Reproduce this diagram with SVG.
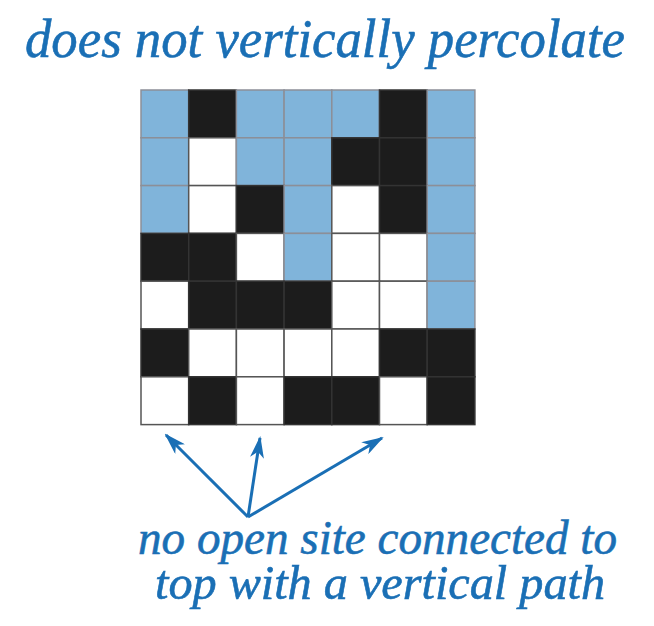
<svg xmlns="http://www.w3.org/2000/svg" width="654" height="626" viewBox="0 0 654 626">
<style>
.t{font-family:"Liberation Serif","DejaVu Serif",serif;font-style:italic;fill:#1a6fb5;stroke:#1a6fb5;stroke-width:0.6}
.F{fill:#80b4da;stroke:#8c8f98;stroke-width:1.5}
.W{fill:#ffffff;stroke:#555;stroke-width:1.5}
.B{fill:#1c1c1c;stroke:#333;stroke-width:1.5}
.c{stroke:#1a6fb5;stroke-width:3;fill:none}
</style>
<defs>
<marker id="ah" viewBox="0 0 22 14" refX="20" refY="7" markerWidth="22" markerHeight="14" markerUnits="userSpaceOnUse" orient="auto">
<path d="M0,0 L22,7 L0,14 L6,7 Z" fill="#1a6fb5"/>
</marker>
</defs>
<rect width="654" height="626" fill="#fff"/>
<g id="title"><text class="t" x="325" y="57" font-size="54" text-anchor="middle" textLength="600" lengthAdjust="spacingAndGlyphs">does not vertically percolate</text></g>
<g id="grid">
<g transform="translate(141,90)">
<rect class="F" x="0" y="0" width="47.7" height="47.8"/>
<rect class="B" x="47.7" y="0" width="47.7" height="47.8"/>
<rect class="F" x="95.4" y="0" width="47.7" height="47.8"/>
<rect class="F" x="143.1" y="0" width="47.7" height="47.8"/>
<rect class="F" x="190.8" y="0" width="47.7" height="47.8"/>
<rect class="B" x="238.5" y="0" width="47.7" height="47.8"/>
<rect class="F" x="286.2" y="0" width="47.7" height="47.8"/>

<rect class="F" x="0" y="47.8" width="47.7" height="47.8"/>
<rect class="W" x="47.7" y="47.8" width="47.7" height="47.8"/>
<rect class="F" x="95.4" y="47.8" width="47.7" height="47.8"/>
<rect class="F" x="143.1" y="47.8" width="47.7" height="47.8"/>
<rect class="B" x="190.8" y="47.8" width="47.7" height="47.8"/>
<rect class="B" x="238.5" y="47.8" width="47.7" height="47.8"/>
<rect class="F" x="286.2" y="47.8" width="47.7" height="47.8"/>

<rect class="F" x="0" y="95.6" width="47.7" height="47.8"/>
<rect class="W" x="47.7" y="95.6" width="47.7" height="47.8"/>
<rect class="B" x="95.4" y="95.6" width="47.7" height="47.8"/>
<rect class="F" x="143.1" y="95.6" width="47.7" height="47.8"/>
<rect class="W" x="190.8" y="95.6" width="47.7" height="47.8"/>
<rect class="B" x="238.5" y="95.6" width="47.7" height="47.8"/>
<rect class="F" x="286.2" y="95.6" width="47.7" height="47.8"/>

<rect class="B" x="0" y="143.4" width="47.7" height="47.8"/>
<rect class="B" x="47.7" y="143.4" width="47.7" height="47.8"/>
<rect class="W" x="95.4" y="143.4" width="47.7" height="47.8"/>
<rect class="F" x="143.1" y="143.4" width="47.7" height="47.8"/>
<rect class="W" x="190.8" y="143.4" width="47.7" height="47.8"/>
<rect class="W" x="238.5" y="143.4" width="47.7" height="47.8"/>
<rect class="F" x="286.2" y="143.4" width="47.7" height="47.8"/>

<rect class="W" x="0" y="191.2" width="47.7" height="47.8"/>
<rect class="B" x="47.7" y="191.2" width="47.7" height="47.8"/>
<rect class="B" x="95.4" y="191.2" width="47.7" height="47.8"/>
<rect class="B" x="143.1" y="191.2" width="47.7" height="47.8"/>
<rect class="W" x="190.8" y="191.2" width="47.7" height="47.8"/>
<rect class="W" x="238.5" y="191.2" width="47.7" height="47.8"/>
<rect class="F" x="286.2" y="191.2" width="47.7" height="47.8"/>

<rect class="B" x="0" y="239" width="47.7" height="47.8"/>
<rect class="W" x="47.7" y="239" width="47.7" height="47.8"/>
<rect class="W" x="95.4" y="239" width="47.7" height="47.8"/>
<rect class="W" x="143.1" y="239" width="47.7" height="47.8"/>
<rect class="W" x="190.8" y="239" width="47.7" height="47.8"/>
<rect class="B" x="238.5" y="239" width="47.7" height="47.8"/>
<rect class="B" x="286.2" y="239" width="47.7" height="47.8"/>

<rect class="W" x="0" y="286.8" width="47.7" height="47.8"/>
<rect class="B" x="47.7" y="286.8" width="47.7" height="47.8"/>
<rect class="W" x="95.4" y="286.8" width="47.7" height="47.8"/>
<rect class="B" x="143.1" y="286.8" width="47.7" height="47.8"/>
<rect class="B" x="190.8" y="286.8" width="47.7" height="47.8"/>
<rect class="W" x="238.5" y="286.8" width="47.7" height="47.8"/>
<rect class="B" x="286.2" y="286.8" width="47.7" height="47.8"/>
</g>
</g>
<g id="connectors">
<line class="c" x1="248" y1="517" x2="166" y2="435" marker-end="url(#ah)"/>
<line class="c" x1="248" y1="517" x2="260" y2="438" marker-end="url(#ah)"/>
<line class="c" x1="248" y1="517" x2="382" y2="438" marker-end="url(#ah)"/>
</g>
<g id="label">
<text class="t" x="377.5" y="554" font-size="48" text-anchor="middle" textLength="479" lengthAdjust="spacingAndGlyphs">no open site connected to</text>
<text class="t" x="380" y="599" font-size="48" text-anchor="middle" textLength="450" lengthAdjust="spacingAndGlyphs">top with a vertical path</text>
</g>
</svg>
